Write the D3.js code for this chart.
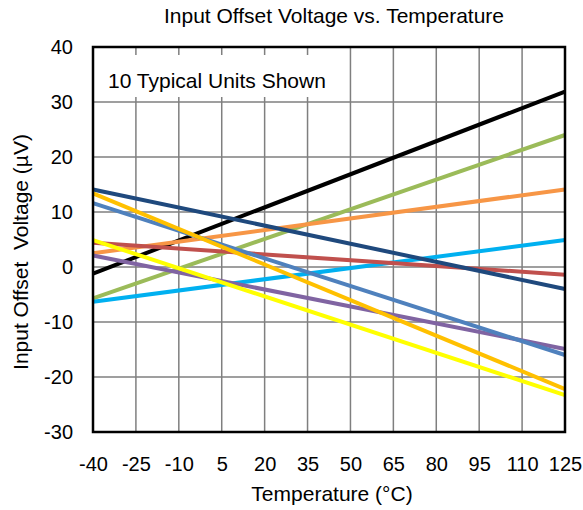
<!DOCTYPE html>
<html>
<head>
<meta charset="utf-8">
<script src="https://cdn.jsdelivr.net/npm/d3@7"></script>
<style>
  body { margin: 0; background: #fff; }
  text { font-family: "Liberation Sans", Arial, sans-serif; fill: #000; }
</style>
</head>
<body>
<svg id="chart" width="583" height="510"></svg>
<script>
// temperature endpoints (°C)
const temps = [-40, 125];
// offset voltage (µV) at -40 and 125 for each unit
const unitColors = ['#000000', '#9BBB59', '#F79646', '#00B0F0', '#C0504D',
  '#1F497D', '#8064A2', '#4F81BD', '#FFC000', '#FFFF00'];
const unitStart = [-1.2, -5.7, 2.5, -6.3, 4.4, 14.1, 2.1, 11.6, 13.4, 4.9];
const unitEnd = [31.9, 24.0, 14.1, 4.9, -1.4, -4.0, -14.9, -16.0, -22.2, -23.3];
const xTicks = [-40, -25, -10, 5, 20, 35, 50, 65, 80, 95, 110, 125];
const yTicks = [-30, -20, -10, 0, 10, 20, 30, 40];

const svg = d3.select('#chart');
const margin = { top: 47, right: 18, bottom: 78, left: 93 };
const width = 583 - margin.left - margin.right;
const height = 510 - margin.top - margin.bottom;

const x = d3.scaleLinear().domain([-40, 125]).range([0, width]);
const y = d3.scaleLinear().domain([-30, 40]).range([height, 0]);

const g = svg.append('g')
  .attr('transform', `translate(${margin.left},${margin.top})`);

// grid
g.append('g')
  .selectAll('line')
  .data(xTicks.slice(1, -1))
  .join('line')
  .attr('x1', d => x(d)).attr('x2', d => x(d))
  .attr('y1', 0).attr('y2', height)
  .attr('stroke', '#7f7f7f').attr('stroke-width', 1.5);
g.append('g')
  .selectAll('line')
  .data(yTicks.slice(1, -1))
  .join('line')
  .attr('x1', 0).attr('x2', width)
  .attr('y1', d => y(d)).attr('y2', d => y(d))
  .attr('stroke', '#7f7f7f').attr('stroke-width', 1.5);

// note box hides grid behind it
g.append('rect')
  .attr('x', 0).attr('y', 8)
  .attr('width', 244).attr('height', 42)
  .attr('fill', '#fff');
g.append('text')
  .attr('x', 15).attr('y', 41)
  .style('font-size', '21px')
  .text('10 Typical Units Shown');

// unit lines
const line = d3.line().x(d => x(d[0])).y(d => y(d[1]));
unitColors.forEach((c, i) => {
  g.append('path')
    .datum([[temps[0], unitStart[i]], [temps[1], unitEnd[i]]])
    .attr('d', line)
    .attr('fill', 'none')
    .attr('stroke', c)
    .attr('stroke-width', 4);
});

// frame
g.append('rect')
  .attr('width', width).attr('height', height)
  .attr('fill', 'none')
  .attr('stroke', '#000').attr('stroke-width', 2.5);

// axes
const xAxis = g.append('g')
  .attr('transform', `translate(0,${height})`)
  .call(d3.axisBottom(x).tickValues(xTicks).tickFormat(d => String(d))
    .tickSize(0).tickPadding(25));
xAxis.select('.domain').remove();
xAxis.selectAll('text').style('font-size', '20px')
  .attr('font-family', null);

const yAxis = g.append('g')
  .call(d3.axisLeft(y).tickValues(yTicks).tickFormat(d => String(d))
    .tickSize(0).tickPadding(20));
yAxis.select('.domain').remove();
yAxis.selectAll('text').style('font-size', '20px')
  .attr('font-family', null);

// titles
svg.append('text')
  .attr('x', 334).attr('y', 23)
  .attr('text-anchor', 'middle')
  .style('font-size', '21px')
  .text('Input Offset Voltage vs. Temperature');

svg.append('text')
  .attr('x', 332).attr('y', 501)
  .attr('text-anchor', 'middle')
  .style('font-size', '21px')
  .text('Temperature (°C)');

svg.append('text')
  .attr('transform', 'translate(28,252) rotate(-90)')
  .attr('text-anchor', 'middle')
  .style('font-size', '21px')
  .style('white-space', 'pre')
  .text('Input Offset  Voltage (µV)');
</script>
</body>
</html>
